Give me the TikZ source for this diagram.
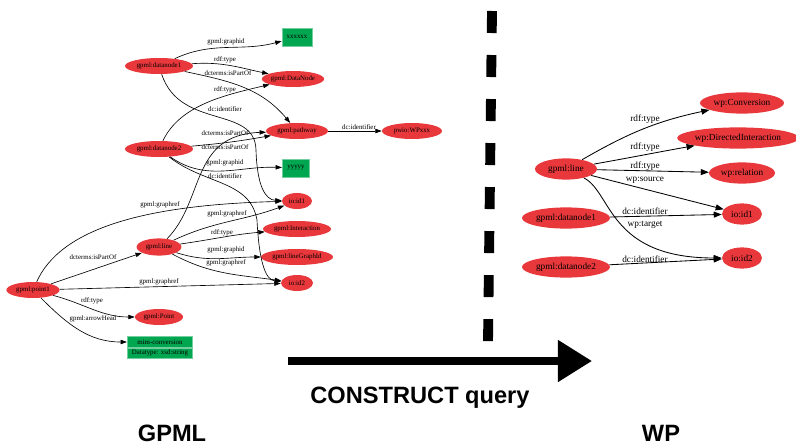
\documentclass[tikz,border=0pt]{standalone}
\usepackage{fontspec}
\setmainfont{Liberation Serif}
\newfontfamily\headfont{Liberation Sans}
\usetikzlibrary{
  arrows.meta,
  positioning,
  shapes.geometric
}
\definecolor{nodered}{RGB}{233,56,60}
\definecolor{idgreen}{RGB}{0,166,80}
\newcommand{\gpmlsize}{\fontsize{4.9}{5.5}\selectfont}
\newcommand{\wpsize}{\fontsize{6.6}{7.5}\selectfont}

\begin{document}
\begin{tikzpicture}[
  x=0.025cm, y=-0.025cm,
  gnode/.style={ellipse, fill=nodered, inner sep=0pt, minimum height=0.4cm, font=\gpmlsize},
  wnode/.style={ellipse, fill=nodered, inner sep=0pt, minimum height=0.53cm, font=\wpsize},
  gid/.style={rectangle, fill=idgreen, draw=idgreen!55!white, line width=0.6pt, inner sep=0pt, minimum height=0.45cm, font=\gpmlsize},
  glabel/.style={font=\gpmlsize, inner sep=0pt},
  wlabel/.style={font=\wpsize, inner sep=0pt},
  glink/.style={-{Triangle[length=0.16cm,width=0.11cm]}, line width=0.45pt},
  wlink/.style={-{Triangle[length=0.2cm,width=0.15cm]}, line width=0.6pt},
  divider/.style={line width=7pt, dash pattern=on 0.55cm off 0.55cm},
  bigarrow/.style={-{Triangle[length=0.85cm,width=1cm]}, line width=5.5pt},
  heading/.style={font=\headfont\bfseries\fontsize{16.8}{20}\selectfont, inner sep=0pt, anchor=base}
]
  \useasboundingbox (0,0) rectangle (796,447);

  % GPML graph: nodes
  \node[gnode, minimum width=1.7cm] (dn1) at (159,66) {gpml:datanode1};
  \node[gid, minimum width=0.75cm] (gidx) at (297,37) {xxxxxx};
  \node[gnode, minimum width=1.5cm] (dnode) at (293,79) {gpml:DataNode};
  \node[gnode, minimum width=1.55cm] (pw) at (297,131) {gpml:pathway};
  \node[gnode, minimum width=1.5cm] (wpx) at (412,131) {pwio:WPxxx};
  \node[gnode, minimum width=1.7cm] (dn2) at (159,149) {gpml:datanode2};
  \node[gid, minimum width=0.68cm] (gidy) at (296,168) {yyyyy};
  \node[gnode, minimum width=0.75cm] (id1) at (297,201) {io:id1};
  \node[gnode, minimum width=1.12cm, minimum height=0.43cm] (ln) at (159,247) {gpml:line};
  \node[gnode, minimum width=1.7cm] (inter) at (297,229) {gpml:Interaction};
  \node[gnode, minimum width=1.8cm] (lgid) at (297,257) {gpml:lineGraphId};
  \node[gnode, minimum width=0.8cm] (id2) at (297,283) {io:id2};
  \node[gnode, minimum width=1.33cm] (pt1) at (33,290) {gpml:point1};
  \node[gnode, minimum width=1.2cm] (pt) at (159,317) {gpml:Point};
  \node[gid, minimum width=1.63cm, minimum height=0.26cm] (ahead) at (160,342) {mim-conversion};
  \node[gid, minimum width=1.63cm, minimum height=0.26cm, below=0pt of ahead] (atype) {Datatype: xsd:string};

  % GPML graph: links
  \draw[glink] (dn1) to[out=25,in=195] (gidx) node[glabel] (l1) at (226,42) {gpml:graphid};
  \draw[glink] (dn1) to[out=4,in=168] (dnode) node[glabel] (l2) at (225,60) {rdf:type};
  \draw[glink] (dn1) to[out=-12,in=130] (pw) node[glabel] (l3) at (228,73) {dcterms:isPartOf};
  \draw[glink] (dn1) .. controls (180,130) and (255,105) .. (256,150)
    .. controls (257,185) and (265,200) .. (id1) node[glabel] (l4) at (225,109) {dc:identifier};
  \draw[glink] (dn2) .. controls (180,105) and (225,95) .. (dnode) node[glabel] (l5) at (225,90) {rdf:type};
  \draw[glink] (dn2) to[out=5,in=190] (pw) node[glabel] (l6) at (225,133) {dcterms:isPartOf};
  \draw[glink] (ln) .. controls (205,200) and (190,135) .. (pw) node[glabel] (l7) at (225,147) {dcterms:isPartOf};
  \draw[glink] (dn2) to[out=-35,in=178] (gidy) node[glabel] (l8) at (225,163) {gpml:graphid};
  \draw[glink] (dn2) .. controls (205,185) and (250,180) .. (257,220)
    .. controls (259,260) and (265,280) .. (id2) node[glabel] (l9) at (225,176) {dc:identifier};
  \draw[glink] (pt1) .. controls (60,230) and (140,205) .. (id1) node[glabel] (l10) at (160,205) {gpml:graphref};
  \draw[glink] (ln) to[out=25,in=200] (id1) node[glabel] (l11) at (227,214) {gpml:graphref};
  \draw[glink] (ln) to[out=8,in=185] (inter) node[glabel] (l12) at (222,233) {rdf:type};
  \draw[glink] (ln) to[out=-18,in=180] (lgid) node[glabel] (l13) at (226,250) {gpml:graphid};
  \draw[glink] (ln) to[out=-28,in=172] (id2) node[glabel] (l14) at (226,263) {gpml:graphref};
  \draw[glink] (pt1) -- (ln) node[glabel] (l15) at (93,257) {dcterms:isPartOf};
  \draw[glink] (pt1) -- (id2) node[glabel] (l16) at (159,282) {gpml:graphref};
  \draw[glink] (pt1) to[out=-15,in=180] (pt) node[glabel] (l17) at (92,301) {rdf:type};
  \draw[glink] (pt1) to[out=-45,in=180] (ahead) node[glabel] (l18) at (93,319) {gpml:arrowHead};
  \draw[glink] (pw) -- (wpx) node[glabel] (l19) at (359,127) {dc:identifier};

  % WP graph: nodes
  \node[wnode, minimum width=1.55cm] (wln) at (566,169) {gpml:line};
  \node[wnode, minimum width=2.1cm] (conv) at (742,103) {wp:Conversion};
  \node[wnode, minimum width=2.9cm] (dirint) at (738,138) {wp:DirectedInteraction};
  \node[wnode, minimum width=1.65cm] (rel) at (742,173) {wp:relation};
  \node[wnode, minimum width=1cm] (wid1) at (742,214) {io:id1};
  \node[wnode, minimum width=1cm] (wid2) at (742,258) {io:id2};
  \node[wnode, minimum width=2.2cm] (wdn1) at (566,218) {gpml:datanode1};
  \node[wnode, minimum width=2.2cm] (wdn2) at (566,267) {gpml:datanode2};

  % WP graph: links
  \draw[wlink] (wln) to[out=30,in=192] (conv) node[wlabel] (w1) at (645,119) {rdf:type};
  \draw[wlink] (wln) to[out=10,in=190] (dirint) node[wlabel] (w2) at (645,147) {rdf:type};
  \draw[wlink] (wln) -- (rel) node[wlabel] (w3) at (645,166) {rdf:type};
  \draw[wlink] (wln) -- (wid1) node[wlabel] (w4) at (645,180) {wp:source};
  \draw[wlink] (wdn1) -- (wid1) node[wlabel] (w5) at (645,211) {dc:identifier};
  \draw[wlink] (wln) .. controls (612,192) and (608,258) .. (wid2) node[wlabel] (w6) at (645,225) {wp:target};
  \draw[wlink] (wdn2) -- (wid2) node[wlabel] (w7) at (645,259) {dc:identifier};

  % Divider and query arrow
  \coordinate (divtop) at (492,11);
  \coordinate (divbot) at (488,343);
  \draw[divider] (divtop) -- (divbot);
  \coordinate (qstart) at (288,361);
  \coordinate (qend) at (592,361);
  \draw[bigarrow] (qstart) -- (qend);

  % Captions
  \node[heading] (query) at (420,403) {CONSTRUCT query};
  \node[heading] (gpml) at (172,441) {GPML};
  \node[heading] (wp) at (661,441) {WP};
\end{tikzpicture}
\end{document}
